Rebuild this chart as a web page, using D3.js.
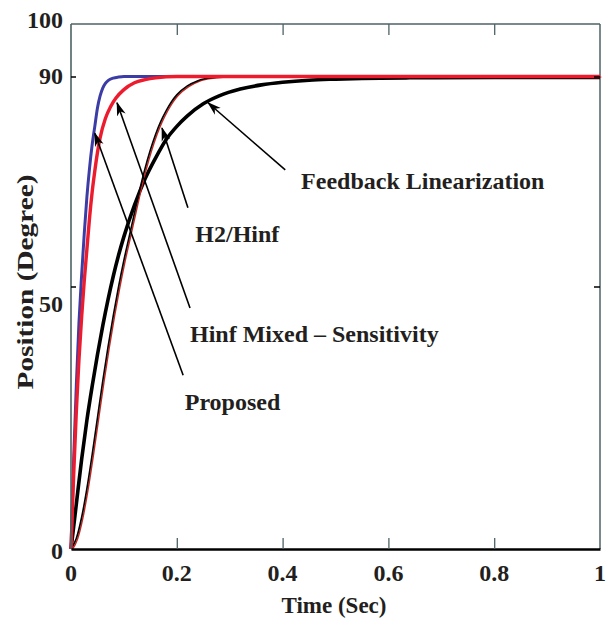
<!DOCTYPE html>
<html>
<head>
<meta charset="utf-8">
<script src="https://cdn.jsdelivr.net/npm/d3@7"></script>
<style>
  html, body { margin: 0; padding: 0; background: #ffffff; }
  svg { display: block; }
  text { font-family: "Liberation Serif", "Times New Roman", serif; font-weight: bold; fill: #231f20; }
</style>
</head>
<body>
<div id="chart"></div>
<script>
// ---------- data ----------
const xTicks = [0, 0.2, 0.4, 0.6, 0.8, 1];
const xTickLabels = ["0", "0.2", "0.4", "0.6", "0.8", "1"];
const yTicks = [0, 50, 90, 100];
const yTickLabels = ["0", "50", "90", "100"];

// Proposed (blue)
const proposedT = [0, 0.005, 0.01, 0.015, 0.02, 0.025, 0.03, 0.035, 0.04, 0.045, 0.05, 0.055, 0.06, 0.065, 0.07, 0.08, 0.09, 0.1, 0.2, 0.5, 1];
const proposedV = [0, 17, 31, 43, 52, 60, 67, 72.5, 77, 80.5, 84, 86.3, 87.8, 88.7, 89.2, 89.7, 89.9, 90, 90, 90, 90];

// Hinf Mixed - Sensitivity (red)
const mixedT = [0, 0.005, 0.01, 0.015, 0.02, 0.025, 0.03, 0.035, 0.04, 0.045, 0.05, 0.055, 0.065, 0.075, 0.085, 0.1, 0.12, 0.14, 0.16, 0.2, 0.5, 1];
const mixedV = [0, 14, 26, 36, 44, 51, 57, 63, 68, 72, 75.5, 78.3, 82, 84.3, 85.9, 87.5, 88.8, 89.4, 89.75, 90, 90, 90];

// H2/Hinf (black with red trace)
const h2T = [0, 0.01, 0.02, 0.03, 0.04, 0.05, 0.06, 0.07, 0.08, 0.09, 0.1, 0.11, 0.12, 0.13, 0.14, 0.15, 0.16, 0.17, 0.18, 0.19, 0.2, 0.22, 0.24, 0.27, 0.3, 0.5, 1];
const h2V = [0, 2, 6, 11.5, 18, 25, 32, 38.5, 44.5, 50, 55, 59.5, 64, 68.5, 72.5, 76, 79, 81.5, 83.5, 85.2, 86.5, 88.2, 89.2, 89.8, 90, 90, 90];

// Feedback Linearization (thick black)
const fbT = [0, 0.01, 0.02, 0.03, 0.04, 0.05, 0.06, 0.07, 0.08, 0.09, 0.1, 0.12, 0.14, 0.16, 0.18, 0.2, 0.22, 0.25, 0.28, 0.32, 0.36, 0.4, 0.45, 0.5, 0.55, 0.64, 0.8, 1];
const fbV = [0, 8.5, 17, 24.5, 31, 37, 42.5, 47.5, 52, 56, 59.5, 65.5, 70.5, 74.5, 78, 80.5, 82.5, 84.8, 86.3, 87.6, 88.4, 88.9, 89.3, 89.5, 89.65, 89.75, 89.8, 89.8];

// annotations: label, text position (data), arrow tail (data), arrow head (data)
const annoLabels = ["Feedback Linearization", "H2/Hinf", "Hinf Mixed \u2013 Sensitivity", "Proposed"];
const annoTextX = [0.435, 0.235, 0.225, 0.215];
const annoTextY = [68.5, 58.5, 39.5, 26.5];
const arrowTailX = [0.405, 0.221, 0.225, 0.212];
const arrowTailY = [72.2, 65.0, 45.9, 33.1];
const arrowHeadX = [0.259, 0.172, 0.087, 0.045];
const arrowHeadY = [85.0, 80.2, 85.0, 79.2];

// ---------- chart ----------
const W = 607, H = 620;
const svg = d3.select("#chart").append("svg").attr("width", W).attr("height", H);

const x = d3.scaleLinear().domain([0, 1]).range([71, 600]);
const y = d3.scaleLinear().domain([0, 100]).range([549, 24]);

const defs = svg.append("defs");
defs.append("marker").attr("id", "arr")
  .attr("viewBox", "0 0 14 10").attr("refX", 13).attr("refY", 5)
  .attr("markerWidth", 14).attr("markerHeight", 10).attr("markerUnits", "userSpaceOnUse")
  .attr("orient", "auto")
  .append("path").attr("d", "M0,0.5 L14,5 L0,9.5 L4,5 Z").attr("fill", "#000");

const frameColor = "#4d6266";

// frame: top and right
svg.append("line").attr("x1", x(0)).attr("x2", x(1)).attr("y1", y(100)).attr("y2", y(100))
  .attr("stroke", frameColor).attr("stroke-width", 1.5);
svg.append("line").attr("x1", x(1)).attr("x2", x(1)).attr("y1", y(100)).attr("y2", y(0))
  .attr("stroke", frameColor).attr("stroke-width", 1.5);

// curves
const line = d3.line().x(d => x(d[0])).y(d => y(d[1])).curve(d3.curveMonotoneX);
const zip = (a, b) => a.map((t, i) => [t, b[i]]);

const plot = svg.append("g");
plot.append("path").datum(zip(fbT, fbV)).attr("d", line)
  .attr("fill", "none").attr("stroke", "#000").attr("stroke-width", 3.6);
plot.append("path").datum(zip(h2T, h2V)).attr("d", line)
  .attr("fill", "none").attr("stroke", "#c8241e").attr("stroke-width", 1.4)
  .attr("transform", "translate(1.3,0.6)");
plot.append("path").datum(zip(h2T, h2V)).attr("d", line)
  .attr("fill", "none").attr("stroke", "#000").attr("stroke-width", 1.6);
plot.append("path").datum(zip(proposedT, proposedV)).attr("d", line)
  .attr("fill", "none").attr("stroke", "#3c3ca6").attr("stroke-width", 3);
plot.append("path").datum(zip(mixedT, mixedV)).attr("d", line)
  .attr("fill", "none").attr("stroke", "#ec1c2e").attr("stroke-width", 3.4);

// axes: left and bottom
svg.append("line").attr("x1", x(0)).attr("x2", x(0)).attr("y1", y(100)).attr("y2", y(0))
  .attr("stroke", frameColor).attr("stroke-width", 1.6);

const xAxis = d3.axisBottom(x).tickValues(xTicks).tickFormat("")
  .tickSizeInner(-11).tickSizeOuter(0);
const gx = svg.append("g").attr("transform", `translate(0,${y(0)})`).call(xAxis);
gx.select(".domain").attr("stroke", "#000").attr("stroke-width", 2.6);
gx.selectAll(".tick line").attr("stroke", frameColor).attr("stroke-width", 1.3)
  .filter(d => d === 0 || d === 1).remove();
svg.append("g").selectAll("text").data(xTicks).join("text")
  .attr("x", d => x(d)).attr("y", 581).attr("text-anchor", "middle")
  .style("font-size", "24px").text((d, i) => xTickLabels[i]);

// top mirror ticks
const gxTop = svg.append("g").attr("transform", `translate(0,${y(100)})`)
  .call(d3.axisTop(x).tickValues(xTicks.filter(d => d > 0 && d < 1)).tickSizeInner(-11).tickSizeOuter(0).tickFormat(""));
gxTop.select(".domain").remove();
gxTop.selectAll(".tick line").attr("stroke", frameColor).attr("stroke-width", 1.3);

// y axis ticks & labels
const yLabelOffset = { 0: 10, 50: 25, 90: 7, 100: 4 };
const yAxis = d3.axisLeft(y).tickValues(yTicks).tickFormat("")
  .tickSizeInner(-5).tickSizeOuter(0);
const gy = svg.append("g").attr("transform", `translate(${x(0)},0)`).call(yAxis);
gy.select(".domain").remove();
gy.selectAll(".tick line").attr("stroke", "#000").attr("stroke-width", 1.5)
  .filter(d => d === 0 || d === 100).remove();
svg.append("g").selectAll("text").data(yTicks).join("text")
  .attr("x", 63).attr("y", d => y(d) + yLabelOffset[d]).attr("text-anchor", "end")
  .style("font-size", "24px").text((d, i) => yTickLabels[i]);

// right mirror ticks
const gyR = svg.append("g").attr("transform", `translate(${x(1)},0)`)
  .call(d3.axisRight(y).tickValues([50, 90]).tickSizeInner(-6).tickSizeOuter(0).tickFormat(""));
gyR.select(".domain").remove();
gyR.selectAll(".tick line").attr("stroke", "#000").attr("stroke-width", 1.5);

// axis titles
svg.append("text").attr("x", 334).attr("y", 613).attr("text-anchor", "middle")
  .style("font-size", "23px").text("Time (Sec)");
svg.append("text").attr("transform", "translate(33,282) rotate(-90) scale(1.22,1)").attr("text-anchor", "middle")
  .style("font-size", "24px").text("Position (Degree)");

// annotations
annoLabels.forEach((lab, i) => {
  svg.append("line")
    .attr("x1", x(arrowTailX[i])).attr("y1", y(arrowTailY[i]))
    .attr("x2", x(arrowHeadX[i])).attr("y2", y(arrowHeadY[i]))
    .attr("stroke", "#000").attr("stroke-width", 1.6).attr("marker-end", "url(#arr)");
  svg.append("text").attr("x", x(annoTextX[i])).attr("y", y(annoTextY[i]))
    .style("font-size", "24px").text(lab);
});
</script>
</body>
</html>
